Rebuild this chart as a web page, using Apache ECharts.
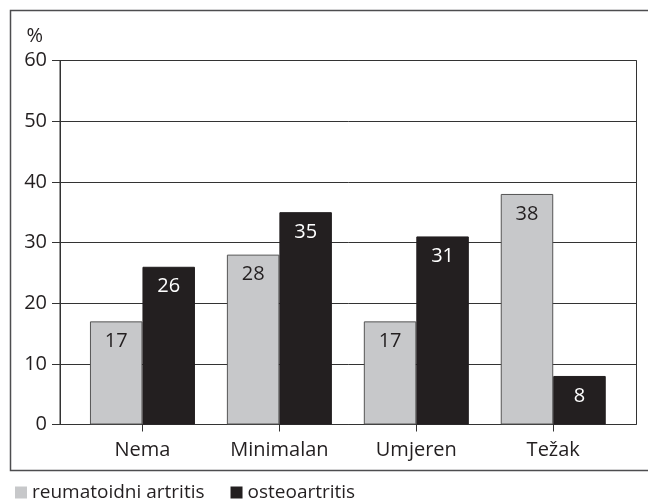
<!DOCTYPE html>
<html><head><meta charset="utf-8">
<script src="https://cdn.jsdelivr.net/npm/echarts@6/dist/echarts.min.js"></script>
<style>html,body{margin:0;padding:0;background:#fff}#c{width:648px;height:499px}</style>
</head><body><div id="c"></div>
<script>
const categories = ['Nema', 'Minimalan', 'Umjeren', 'Težak'];
const reumatoidni = [17, 28, 17, 38];
const osteo = [26, 35, 31, 8];
const seriesNames = ['reumatoidni artritis', 'osteoartritis'];
const yTicks = [0, 10, 20, 30, 40, 50, 60];

const FONT = 'Open Sans';
const DARK = '#231f20';
const GRAY = '#c7c8ca';
const FS = 20;

const chart = echarts.init(document.getElementById('c'), null, {renderer: 'canvas'});
chart.setOption({
  animation: false,
  textStyle: {fontFamily: FONT, color: DARK},
  graphic: [{
    type: 'rect', z: 0, silent: true,
    shape: {x: 10.5, y: 10.5, width: 700, height: 460},
    style: {fill: 'none', stroke: '#4d4d4f', lineWidth: 1.5}
  }],
  grid: [
    {left: 60, right: 11.5, top: 60.5, bottom: 74.5, show: true, borderColor: '#333', borderWidth: 1, backgroundColor: 'transparent'},
    {left: 74, right: 26.3, top: 60.5, bottom: 74.5}
  ],
  legend: {
    left: 10, top: 478, itemWidth: 12, itemHeight: 12, itemGap: 26,
    icon: 'rect',
    itemStyle: {borderWidth: 0},
    textStyle: {fontFamily: FONT, fontSize: 19, color: DARK},
    data: seriesNames
  },
  xAxis: [
    {type: 'value', gridIndex: 0, show: false, min: 0, max: 1},
    {type: 'category', gridIndex: 1, data: categories,
     axisLine: {show: false},
     axisTick: {show: true, alignWithLabel: true, length: 7, lineStyle: {color: '#333'}},
     axisLabel: {fontFamily: FONT, fontSize: FS, color: DARK, margin: 16}}
  ],
  yAxis: [
    {type: 'value', gridIndex: 0, min: yTicks[0], max: yTicks[yTicks.length-1], interval: 10,
     name: '%', nameLocation: 'end', nameGap: 14,
     nameTextStyle: {fontFamily: FONT, fontSize: FS, color: DARK, align: 'right', padding: [0, 17, 0, 0]},
     axisLine: {show: true, lineStyle: {color: '#333'}},
     axisTick: {show: true, length: 8, lineStyle: {color: '#333'}},
     axisLabel: {fontFamily: FONT, fontSize: FS, color: DARK, margin: 13},
     splitLine: {show: true, lineStyle: {color: '#333', width: 1}}},
    {type: 'value', gridIndex: 1, min: 0, max: 60, show: false}
  ],
  series: [
    {name: seriesNames[0], type: 'bar', xAxisIndex: 1, yAxisIndex: 1, data: reumatoidni,
     barWidth: 52.5, barGap: '0%',
     itemStyle: {color: GRAY, borderColor: '#555', borderWidth: 1},
     label: {show: true, position: 'insideTop', distance: 10, fontFamily: FONT, fontSize: FS, color: DARK}},
    {name: seriesNames[1], type: 'bar', xAxisIndex: 1, yAxisIndex: 1, data: osteo,
     barWidth: 52.5, barGap: '0%',
     itemStyle: {color: DARK, borderColor: DARK, borderWidth: 1},
     label: {show: true, position: 'insideTop', distance: 10, fontFamily: FONT, fontSize: FS, color: '#fff'}}
  ]
});
</script></body></html>
